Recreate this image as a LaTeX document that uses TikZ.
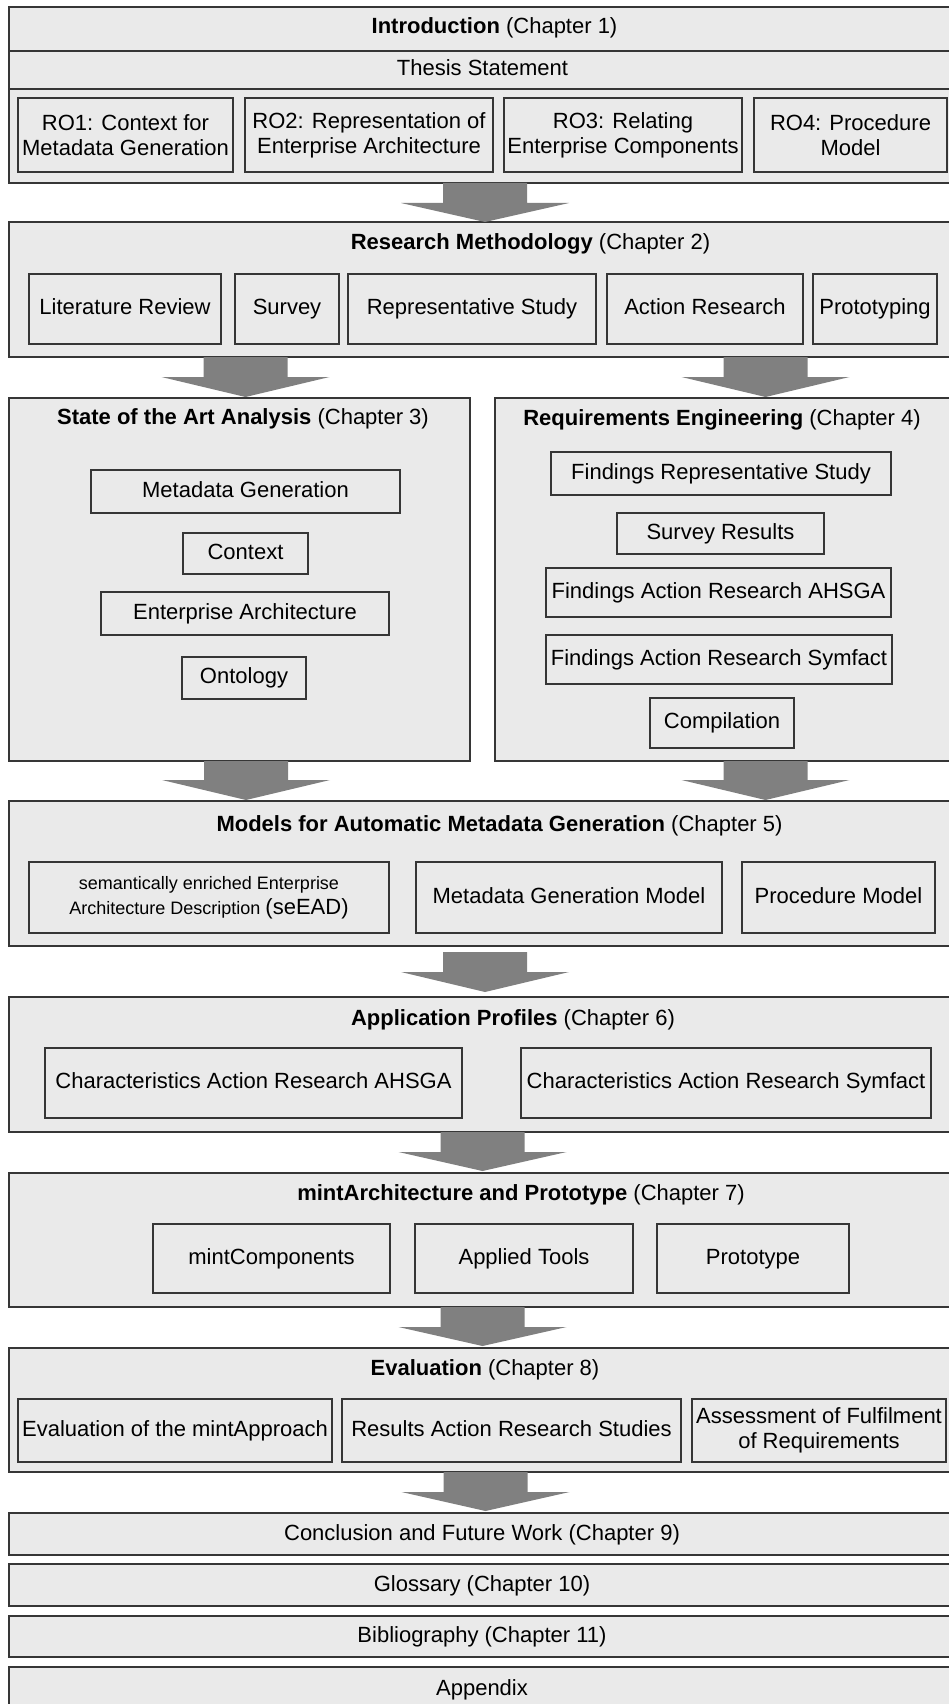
\documentclass[tikz,border=0pt]{standalone}
\usepackage{fontspec}
\setmainfont{Liberation Sans}
\definecolor{boxfill}{HTML}{EAEAEA}
\definecolor{boxline}{HTML}{363636}
\definecolor{arrowfill}{HTML}{808080}

% rectangle node given by its corners: style, name, x1, y1, x2, y2, text
\newcommand{\boxnode}[7]{%
  \node[#1, minimum width={(#5-#3)*1pt}, minimum height={(#6-#4)*1pt}]
    (#2) at ({(#3+#5)/2},{(#4+#6)/2}) {#7};}
% broad downward block arrow: centre x, shaft top, head base, tip
\newcommand{\blockdown}[4]{%
  \fill[arrowfill] (#1-42,#2) -- (#1+42,#2) -- (#1+42,#3) -- (#1+84,#3)
    -- (#1,#4) -- (#1-84,#3) -- (#1-42,#3) -- cycle;}

\begin{document}
\begin{tikzpicture}[x=1pt,y=-1pt,
  every node/.style={font=\fontsize{22}{25}\selectfont, inner sep=0pt, outer sep=0pt,
    text height=16pt, text depth=5pt},
  chapterbox/.style={rectangle, draw=boxline, fill=boxfill, line width=2pt},
  subbox/.style={rectangle, draw=boxline, fill=boxfill, line width=1.7pt, align=center},
  multiline/.style={text height={}, text depth={}},
  heading/.style={align=center}]
\useasboundingbox (0,0) rectangle (949,1704);
\fill[white] (0,0) rectangle (949,1704);
\clip (0,0) rectangle (949,1704);

% ---------- Chapter 1 ----------
\boxnode{chapterbox}{introhead}{8.5}{7}{975}{51}{}
\boxnode{chapterbox}{thesis}{8.5}{51}{975}{89}{}
\boxnode{chapterbox}{introro}{8.5}{89}{975}{183}{}
\node[heading] (introtitle) at (494.5,28) {\textbf{Introduction} (Chapter 1)};
\node[heading] (thesistext) at (482.5,70) {Thesis Statement};
\boxnode{subbox,multiline}{ro1}{18}{98}{233}{172}{RO1: Context for\\Metadata Generation}
\boxnode{subbox,multiline}{ro2}{245}{98}{493}{172}{RO2: Representation of\\Enterprise Architecture}
\boxnode{subbox,multiline}{ro3}{504}{98}{742}{172}{RO3: Relating\\Enterprise Components}
\boxnode{subbox,multiline}{ro4}{754}{98}{947}{172}{RO4: Procedure\\Model}

% ---------- Chapter 2 ----------
\boxnode{chapterbox}{method}{8.5}{222}{975}{357}{}
\node[heading] (methodtitle) at (530.5,244) {\textbf{Research Methodology} (Chapter 2)};
\boxnode{subbox}{litrev}{29}{274}{221}{344}{Literature Review}
\boxnode{subbox}{survey}{235}{274}{339}{344}{Survey}
\boxnode{subbox}{repstudy}{348}{274}{596}{344}{Representative Study}
\boxnode{subbox}{actres}{607}{274}{803}{344}{Action Research}
\boxnode{subbox}{prototyping}{813}{274}{937}{344}{Prototyping}

% ---------- Chapters 3 and 4 ----------
\boxnode{chapterbox}{sota}{8.5}{398}{470}{761}{}
\boxnode{chapterbox}{reqeng}{494.5}{398}{975}{761}{}
\node[heading] (sotatitle) at (243,419) {\textbf{State of the Art Analysis} (Chapter 3)};
\node[heading] (reqtitle) at (722,420) {\textbf{Requirements Engineering} (Chapter 4)};
\boxnode{subbox}{metagen}{91}{470}{400}{513}{Metadata Generation}
\boxnode{subbox}{context}{183}{533}{308}{574}{Context}
\boxnode{subbox}{entarch}{101}{592}{389}{635}{Enterprise Architecture}
\boxnode{subbox}{ontology}{182}{657}{306}{699}{Ontology}
\boxnode{subbox}{findrep}{551}{452}{891}{495}{Findings Representative Study}
\boxnode{subbox}{survres}{617}{513}{824}{554}{Survey Results}
\boxnode{subbox}{findahsga}{546}{568}{891}{617}{Findings Action Research AHSGA}
\boxnode{subbox}{findsymfact}{546}{635}{892}{684}{Findings Action Research Symfact}
\boxnode{subbox}{compilation}{650}{698}{794}{748}{Compilation}

% ---------- Chapter 5 ----------
\boxnode{chapterbox}{models}{8.5}{801}{975}{946}{}
\node[heading] (modelstitle) at (499.5,826) {\textbf{Models for Automatic Metadata Generation} (Chapter 5)};
\boxnode{subbox,multiline}{seead}{29}{862}{389}{933}{\fontsize{18}{24}\selectfont semantically enriched Enterprise\\\fontsize{18}{24}\selectfont Architecture Description {\fontsize{22}{24}\selectfont(seEAD)}}
\boxnode{subbox}{mgmodel}{416}{862}{722}{933}{Metadata Generation Model}
\boxnode{subbox}{procmodel}{742}{862}{935}{933}{Procedure Model}

% ---------- Chapter 6 ----------
\boxnode{chapterbox}{profiles}{8.5}{997}{975}{1132}{}
\node[heading] (profilestitle) at (513,1020) {\textbf{Application Profiles} (Chapter 6)};
\boxnode{subbox}{charahsga}{45}{1048}{462}{1118}{Characteristics Action Research AHSGA}
\boxnode{subbox}{charsymfact}{521}{1048}{931}{1118}{Characteristics Action Research Symfact}

% ---------- Chapter 7 ----------
\boxnode{chapterbox}{mint}{8.5}{1173}{975}{1307}{}
\node[heading] (minttitle) at (521,1195) {\textbf{mintArchitecture and Prototype} (Chapter 7)};
\boxnode{subbox}{mintcomp}{153}{1224}{390}{1293}{mintComponents}
\boxnode{subbox}{tools}{415}{1224}{633}{1293}{Applied Tools}
\boxnode{subbox}{prototype}{657}{1224}{849}{1293}{Prototype}

% ---------- Chapter 8 ----------
\boxnode{chapterbox}{evaluation}{8.5}{1348}{975}{1472}{}
\node[heading] (evaltitle) at (485,1370) {\textbf{Evaluation} (Chapter 8)};
\boxnode{subbox}{evalmint}{18}{1399}{332}{1462}{Evaluation of the mintApproach}
\boxnode{subbox}{results}{342}{1399}{681}{1462}{Results Action Research Studies}
\boxnode{subbox,multiline}{assessment}{692}{1399}{946}{1462}{Assessment of Fulfilment\\of Requirements}

% ---------- Closing parts ----------
\boxnode{chapterbox}{conclusion}{8.5}{1513}{975}{1555}{}
\boxnode{chapterbox}{glossary}{8.5}{1564}{975}{1606}{}
\boxnode{chapterbox}{bibliography}{8.5}{1616}{975}{1657}{}
\boxnode{chapterbox}{appendix}{8.5}{1667}{975}{1730}{}
\node[heading] (conclusiontext) at (482,1535) {Conclusion and Future Work (Chapter 9)};
\node[heading] (glossarytext) at (482,1586) {Glossary (Chapter 10)};
\node[heading] (bibtext) at (482,1637) {Bibliography (Chapter 11)};
\node[heading] (appendixtext) at (482,1690) {Appendix};

% ---------- Block arrows between the chapters ----------
\blockdown{485}{183}{203}{222}
\blockdown{245.5}{357}{377}{397}
\blockdown{765.5}{357}{377}{397}
\blockdown{246}{761}{780}{800}
\blockdown{765.5}{761}{780}{800}
\blockdown{485}{952}{972}{992}
\blockdown{482.5}{1132}{1152}{1171}
\blockdown{482.5}{1307}{1327}{1346}
\blockdown{485.5}{1472}{1492}{1511}
\end{tikzpicture}
\end{document}
